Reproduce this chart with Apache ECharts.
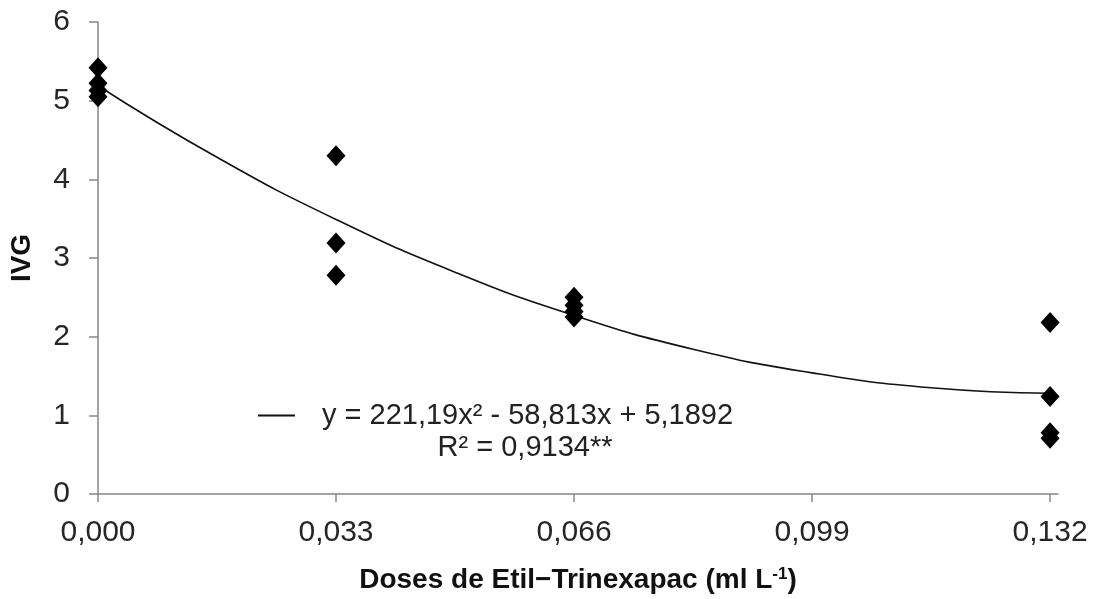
<!DOCTYPE html>
<html>
<head>
  <meta charset="utf-8">
  <script src="https://cdn.jsdelivr.net/npm/echarts@6/dist/echarts.min.js"></script>
  <style>
    body {
      margin: 0;
      padding: 0;
      background-color: white;
    }
    #main {
      width: 1097px;
      height: 599px;
    }
  </style>
  <title>IVG x Etil-Trinexapac</title>
</head>
<body>
<div id="main"></div>
<script>
  // observed points (dose, IVG)
  var dose0 = [5.42, 5.22, 5.13, 5.05];
  var dose033 = [4.30, 3.19, 2.78];
  var dose066 = [2.50, 2.40, 2.32, 2.25];
  var dose132 = [2.18, 1.24, 0.78, 0.71];

  // fitted curve
  var trendX = [0, 0.0165, 0.033, 0.0495, 0.066, 0.0825, 0.099, 0.1155, 0.132];
  var trendY = [5.19, 4.28, 3.49, 2.82, 2.27, 1.84, 1.54, 1.35, 1.28];

  var xTicks = [0, 0.033, 0.066, 0.099, 0.132];
  var eqText = 'y = 221,19x² - 58,813x + 5,1892';
  var r2Text = 'R² = 0,9134**';

  var points = [];
  dose0.forEach(function (v) { points.push([0, v]); });
  dose033.forEach(function (v) { points.push([0.033, v]); });
  dose066.forEach(function (v) { points.push([0.066, v]); });
  dose132.forEach(function (v) { points.push([0.132, v]); });

  var trend = trendX.map(function (x, i) { return [x, trendY[i]]; });

  var font = 'Liberation Sans, Arial, sans-serif';
  var myChart = echarts.init(document.getElementById('main'));

  myChart.setOption({
    backgroundColor: '#fff',
    animation: false,
    textStyle: { fontFamily: font },
    grid: { left: 96, right: 39, top: 22, bottom: 104 },
    title: {
      text: r2Text,
      left: 525,
      top: 433,
      textAlign: 'center',
      padding: 0,
      textStyle: { fontFamily: font, fontSize: 29, fontWeight: 'normal', color: '#222' }
    },
    legend: {
      data: [{ name: eqText, icon: 'rect' }],
      left: 258,
      top: 401,
      padding: 0,
      itemWidth: 37,
      itemHeight: 2,
      selectedMode: false,
      textStyle: { fontFamily: font, fontSize: 29, color: '#222', padding: [0, 0, 0, 22] }
    },
    xAxis: {
      type: 'value',
      min: 0,
      max: 0.1331,
      name: 'Doses de Etil−Trinexapac (ml L{sup|-1})',
      nameLocation: 'middle',
      nameGap: 72,
      nameTextStyle: {
        fontFamily: font, fontSize: 28, fontWeight: 'bold', color: '#111',
        rich: {
          sup: { fontFamily: font, fontSize: 17, fontWeight: 'bold', color: '#111', verticalAlign: 'top', padding: [0, 0, 10, 0] }
        }
      },
      splitLine: { show: false },
      axisLine: { onZero: false, lineStyle: { color: '#868686', width: 1.5 } },
      axisTick: { customValues: xTicks, length: 8, lineStyle: { color: '#868686', width: 1.5 } },
      axisLabel: {
        customValues: xTicks,
        margin: 24,
        fontSize: 30,
        color: '#262626',
        formatter: function (v) { return v.toFixed(3).replace('.', ','); }
      }
    },
    yAxis: {
      type: 'value',
      min: 0,
      max: 6,
      interval: 1,
      name: 'IVG',
      nameLocation: 'middle',
      nameGap: 62,
      nameTextStyle: { fontFamily: font, fontSize: 28, fontWeight: 'bold', color: '#111' },
      splitLine: { show: false },
      axisLine: { show: true, lineStyle: { color: '#868686', width: 1.5 } },
      axisTick: { show: true, length: 9, lineStyle: { color: '#868686', width: 1.5 } },
      axisLabel: { margin: 28, fontSize: 30, color: '#262626' }
    },
    series: [
      {
        name: eqText,
        type: 'line',
        data: trend,
        smooth: true,
        symbol: 'none',
        lineStyle: { color: '#111', width: 1.6 },
        itemStyle: { color: '#111' },
        z: 2
      },
      {
        name: 'IVG',
        type: 'scatter',
        data: points,
        symbol: 'diamond',
        symbolSize: [19, 21],
        itemStyle: { color: '#000', opacity: 1 },
        z: 3
      }
    ]
  });
</script>
</body>
</html>
